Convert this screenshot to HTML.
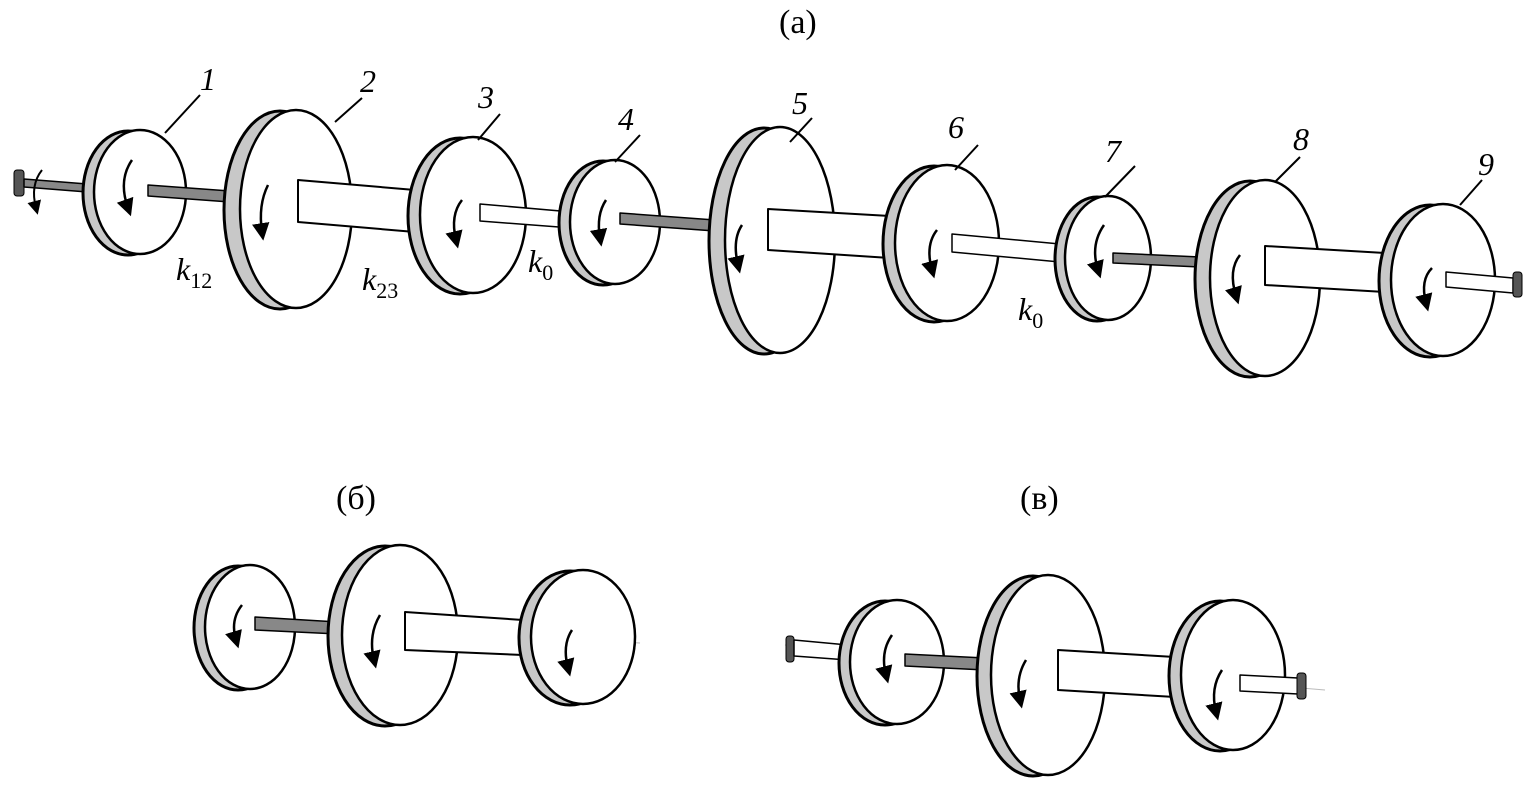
<!DOCTYPE html>
<html><head><meta charset="utf-8"><style>
html,body{margin:0;padding:0;background:#fff;}
svg{display:block;}
text{font-family:"Liberation Serif",serif;fill:#000;}
</style></head><body>
<svg width="1535" height="794" viewBox="0 0 1535 794" xmlns="http://www.w3.org/2000/svg">
<defs>
<marker id="ah" viewBox="0 0 10 10" refX="5" refY="5" markerWidth="7" markerHeight="9" orient="auto"><path d="M0,0 L10,5 L0,10 z" fill="#000"/></marker>
</defs>
<g stroke="#000" stroke-linejoin="round">
<!-- (a) -->
<line x1="20" y1="184" x2="1510" y2="285" stroke="#bbb" stroke-width="1"/>
<rect x="14" y="170" width="10" height="26" rx="3" fill="#555" stroke-width="1"/>
<polygon points="24,179 100,185 100,193 24,187" fill="#888" stroke-width="1.5"/>
<path d="M42,170 Q30,185 36,208" fill="none" stroke-width="2" marker-end="url(#ah)"/>
<!-- disk1 -->
<ellipse cx="128" cy="193" rx="45" ry="62" fill="#c8c8c8" stroke-width="3"/>
<ellipse cx="140" cy="192" rx="46" ry="62" fill="#fff" stroke-width="2.5"/>
<path d="M132,160 Q118,180 128,208" fill="none" stroke-width="2.5" marker-end="url(#ah)"/>
<polygon points="148,185 230,191 230,202 148,196" fill="#888" stroke-width="1.5"/>
<!-- disk2 -->
<ellipse cx="280" cy="210" rx="56" ry="99" fill="#c8c8c8" stroke-width="3"/>
<ellipse cx="296" cy="209" rx="56" ry="99" fill="#fff" stroke-width="2.5"/>
<path d="M268,185 Q258,205 262,232" fill="none" stroke-width="2.5" marker-end="url(#ah)"/>
<polygon points="298,180 415,190 415,232 298,222" fill="#fff" stroke-width="2"/>
<!-- disk3 -->
<ellipse cx="460" cy="216" rx="52" ry="78" fill="#c8c8c8" stroke-width="3"/>
<ellipse cx="473" cy="215" rx="53" ry="78" fill="#fff" stroke-width="2.5"/>
<path d="M462,200 Q450,215 456,240" fill="none" stroke-width="2.5" marker-end="url(#ah)"/>
<polygon points="480,204 572,212 572,228 480,221" fill="#fff" stroke-width="1.5"/>
<!-- disk4 -->
<ellipse cx="603" cy="223" rx="44" ry="62" fill="#c8c8c8" stroke-width="3"/>
<ellipse cx="615" cy="222" rx="45" ry="62" fill="#fff" stroke-width="2.5"/>
<path d="M606,200 Q596,215 600,238" fill="none" stroke-width="2.5" marker-end="url(#ah)"/>
<polygon points="620,213 715,220 715,231 620,224" fill="#888" stroke-width="1.5"/>
<!-- disk5 -->
<ellipse cx="764" cy="241" rx="55" ry="113" fill="#c8c8c8" stroke-width="3"/>
<ellipse cx="780" cy="240" rx="55" ry="113" fill="#fff" stroke-width="2.5"/>
<path d="M742,225 Q732,240 738,265" fill="none" stroke-width="2.5" marker-end="url(#ah)"/>
<polygon points="768,209 890,216 890,258 768,250" fill="#fff" stroke-width="2"/>
<!-- disk6 -->
<ellipse cx="934" cy="244" rx="51" ry="78" fill="#c8c8c8" stroke-width="3"/>
<ellipse cx="947" cy="243" rx="52" ry="78" fill="#fff" stroke-width="2.5"/>
<path d="M937,230 Q925,245 932,270" fill="none" stroke-width="2.5" marker-end="url(#ah)"/>
<polygon points="952,234 1060,244 1060,262 952,252" fill="#fff" stroke-width="1.5"/>
<!-- disk7 -->
<ellipse cx="1097" cy="259" rx="42" ry="62" fill="#c8c8c8" stroke-width="3"/>
<ellipse cx="1108" cy="258" rx="43" ry="62" fill="#fff" stroke-width="2.5"/>
<path d="M1104,225 Q1090,245 1098,270" fill="none" stroke-width="2.5" marker-end="url(#ah)"/>
<polygon points="1113,253 1200,257 1200,267 1113,263" fill="#888" stroke-width="1.5"/>
<!-- disk8 -->
<ellipse cx="1250" cy="279" rx="55" ry="98" fill="#c8c8c8" stroke-width="3"/>
<ellipse cx="1265" cy="278" rx="55" ry="98" fill="#fff" stroke-width="2.5"/>
<path d="M1240,255 Q1228,270 1236,296" fill="none" stroke-width="2.5" marker-end="url(#ah)"/>
<polygon points="1265,246 1385,253 1385,292 1265,285" fill="#fff" stroke-width="2"/>
<!-- disk9 -->
<ellipse cx="1430" cy="281" rx="51" ry="76" fill="#c8c8c8" stroke-width="3"/>
<ellipse cx="1443" cy="280" rx="52" ry="76" fill="#fff" stroke-width="2.5"/>
<path d="M1432,268 Q1420,280 1426,303" fill="none" stroke-width="2.5" marker-end="url(#ah)"/>
<polygon points="1446,272 1513,278 1513,293 1446,287" fill="#fff" stroke-width="1.5"/>
<rect x="1513" y="272" width="9" height="25" rx="3" fill="#555" stroke-width="1"/>
<!-- leaders -->
<g stroke-width="2">
<line x1="165" y1="133" x2="200" y2="95"/>
<line x1="335" y1="122" x2="362" y2="98"/>
<line x1="478" y1="140" x2="500" y2="114"/>
<line x1="615" y1="162" x2="640" y2="135"/>
<line x1="790" y1="142" x2="812" y2="118"/>
<line x1="955" y1="170" x2="978" y2="145"/>
<line x1="1105" y1="197" x2="1135" y2="166"/>
<line x1="1275" y1="182" x2="1300" y2="157"/>
<line x1="1460" y1="205" x2="1482" y2="180"/>
</g>
<!-- (б) -->
<line x1="195" y1="620" x2="640" y2="643" stroke="#bbb" stroke-width="1"/>
<ellipse cx="238" cy="628" rx="44" ry="62" fill="#c8c8c8" stroke-width="3"/>
<ellipse cx="250" cy="627" rx="45" ry="62" fill="#fff" stroke-width="2.5"/>
<path d="M242,605 Q230,620 236,640" fill="none" stroke-width="2.5" marker-end="url(#ah)"/>
<polygon points="255,617 338,622 338,634 255,630" fill="#888" stroke-width="1.5"/>
<ellipse cx="385" cy="636" rx="57" ry="90" fill="#c8c8c8" stroke-width="3"/>
<ellipse cx="400" cy="635" rx="58" ry="90" fill="#fff" stroke-width="2.5"/>
<path d="M380,615 Q368,635 374,660" fill="none" stroke-width="2.5" marker-end="url(#ah)"/>
<polygon points="405,612 523,620 523,655 405,650" fill="#fff" stroke-width="2"/>
<ellipse cx="570" cy="638" rx="51" ry="67" fill="#c8c8c8" stroke-width="3"/>
<ellipse cx="583" cy="637" rx="52" ry="67" fill="#fff" stroke-width="2.5"/>
<path d="M572,630 Q562,645 568,668" fill="none" stroke-width="2.5" marker-end="url(#ah)"/>
<!-- (в) -->
<line x1="785" y1="645" x2="1325" y2="690" stroke="#bbb" stroke-width="1"/>
<rect x="786" y="636" width="8" height="26" rx="3" fill="#555" stroke-width="1"/>
<polygon points="794,640 848,645 848,660 794,656" fill="#fff" stroke-width="1.5"/>
<ellipse cx="885" cy="663" rx="46" ry="62" fill="#c8c8c8" stroke-width="3"/>
<ellipse cx="897" cy="662" rx="47" ry="62" fill="#fff" stroke-width="2.5"/>
<path d="M892,635 Q880,652 886,675" fill="none" stroke-width="2.5" marker-end="url(#ah)"/>
<polygon points="905,654 985,658 985,670 905,666" fill="#888" stroke-width="1.5"/>
<ellipse cx="1033" cy="676" rx="56" ry="100" fill="#c8c8c8" stroke-width="3"/>
<ellipse cx="1048" cy="675" rx="57" ry="100" fill="#fff" stroke-width="2.5"/>
<path d="M1026,660 Q1015,678 1020,700" fill="none" stroke-width="2.5" marker-end="url(#ah)"/>
<polygon points="1058,650 1175,657 1175,697 1058,690" fill="#fff" stroke-width="2"/>
<ellipse cx="1220" cy="676" rx="51" ry="75" fill="#c8c8c8" stroke-width="3"/>
<ellipse cx="1233" cy="675" rx="52" ry="75" fill="#fff" stroke-width="2.5"/>
<path d="M1222,670 Q1210,688 1216,712" fill="none" stroke-width="2.5" marker-end="url(#ah)"/>
<polygon points="1240,675 1298,678 1298,694 1240,691" fill="#fff" stroke-width="1.5"/>
<rect x="1297" y="673" width="9" height="26" rx="3" fill="#555" stroke-width="1"/>
</g>
<!-- labels -->
<g font-size="34">
<text x="779" y="33">(a)</text>
<text x="336" y="509">(б)</text>
<text x="1020" y="509">(в)</text>
</g>
<g font-size="32" font-style="italic">
<text x="200" y="90">1</text>
<text x="360" y="92">2</text>
<text x="478" y="108">3</text>
<text x="618" y="130">4</text>
<text x="792" y="114">5</text>
<text x="948" y="138">6</text>
<text x="1105" y="162">7</text>
<text x="1293" y="150">8</text>
<text x="1478" y="175">9</text>
<text x="176" y="280">k<tspan font-style="normal" font-size="22" dy="8">12</tspan></text>
<text x="362" y="290">k<tspan font-style="normal" font-size="22" dy="8">23</tspan></text>
<text x="528" y="272">k<tspan font-style="normal" font-size="22" dy="8">0</tspan></text>
<text x="1018" y="320">k<tspan font-style="normal" font-size="22" dy="8">0</tspan></text>
</g>
</svg>
</body></html>
